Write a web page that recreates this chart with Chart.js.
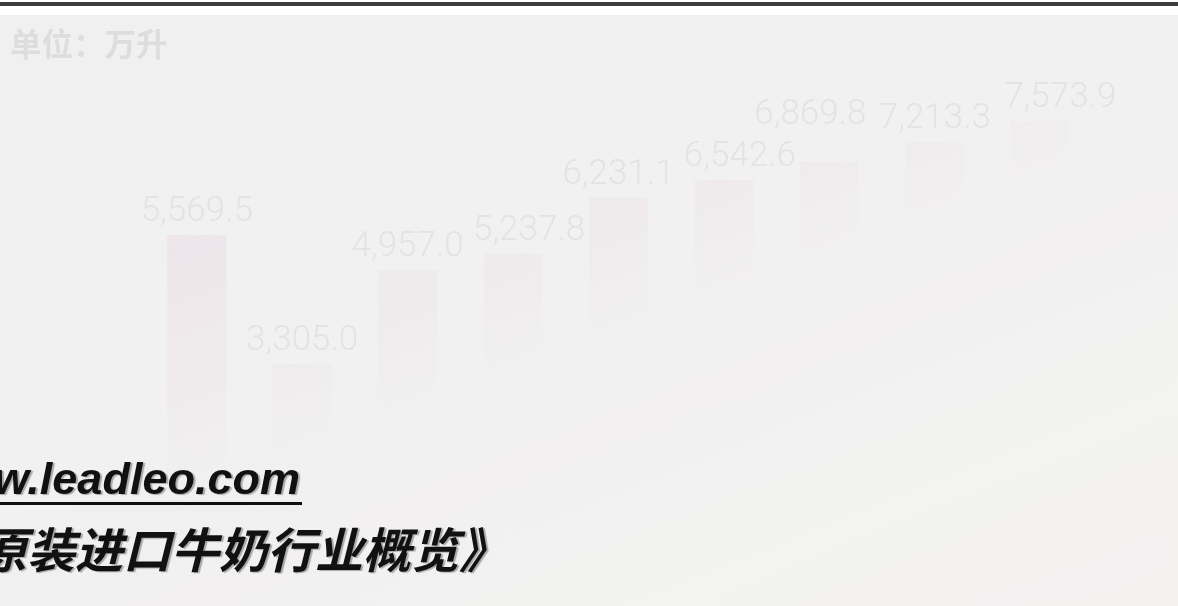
<!DOCTYPE html>
<html lang="zh-CN">
<head>
<meta charset="UTF-8">
<title>原装进口牛奶</title>
<script src="https://cdn.jsdelivr.net/npm/chart.js"></script>
<style>
    html, body { margin: 0; padding: 0; }
    body { width: 1178px; height: 606px; position: relative; overflow: hidden; background: #ffffff; }
    .topline { position: absolute; left: 0; top: 2px; width: 1178px; height: 4px; background: #3c3c3c; }
    .fondo {
        position: absolute; left: 0; top: 15px; width: 1178px; height: 591px;
        background: linear-gradient(158deg, #f0f0f0 0%, #f1f1f1 45%, #f2f0f1 62%, #f3f3f1 80%, #f4f1f1 100%);
    }
    #grafico { position: absolute; left: 0; top: 0; }
    .unidade {
        position: absolute; left: 10px; top: 22px;
        font-family: "Noto Sans CJK SC", sans-serif; font-weight: bold;
        font-size: 31.5px; line-height: 40px; color: #dddddd;
    }
    .marca {
        position: absolute; color: #111; font-weight: bold; font-style: italic;
        white-space: nowrap; text-shadow: 2px 1px 1px rgba(0,0,0,0.3);
    }
    .site { left: -6px; top: 456px; font-family: "Liberation Sans", Arial, sans-serif; font-size: 45px; line-height: 45px; }
    .sublinhado { position: absolute; left: 0; top: 502px; width: 302px; height: 3px; background: #111; }
    .titulo { left: -21px; top: 523px; font-family: "Noto Sans CJK SC", sans-serif; font-size: 48px; line-height: 48px; }
</style>
</head>
<body>
<div class="topline"></div>
<div class="fondo"></div>
<canvas id="grafico" width="1178" height="606"></canvas>
<div class="unidade">单位：万升</div>
<div class="marca site">w.leadleo.com</div>
<div class="sublinhado"></div>
<div class="marca titulo">原装进口牛奶行业概览》</div>

<script>
    // dados
    const anos = ['2014', '2015', '2016', '2017', '2018', '2019', '2020', '2021', '2022'];
    const volumes = [5569.5, 3305.0, 4957.0, 5237.8, 6231.1, 6542.6, 6869.8, 7213.3, 7573.9];

    function formatar(v) {
        return v.toLocaleString('en-US', { minimumFractionDigits: 1, maximumFractionDigits: 1 });
    }

    // degrade diagonal das barras (somem para baixo/direita)
    function corBarra(context) {
        const ctx = context.chart.ctx;
        const g = ctx.createLinearGradient(0, 300, 91, 546);
        g.addColorStop(0, 'rgba(220,160,190,0.14)');
        g.addColorStop(0.5, 'rgba(220,160,190,0.07)');
        g.addColorStop(1, 'rgba(220,160,190,0)');
        return g;
    }

    // deslocamento manual de alguns rotulos para nao sobrepor
    const ajusteX = { 3: 16, 5: 16, 6: -19, 8: 20 };
    const ajusteY = { 6: 23 };

    // rotulos de valor acima das barras
    const rotulos = {
        id: 'rotulos',
        afterDatasetsDraw(chart) {
            const ctx = chart.ctx;
            const meta = chart.getDatasetMeta(0);
            ctx.save();
            ctx.font = '300 35px Roboto';
            ctx.fillStyle = '#e3e3e3';
            ctx.textAlign = 'center';
            ctx.textBaseline = 'alphabetic';
            meta.data.forEach(function (bar, i) {
                let dx = ajusteX[i] || 0;
                let dy = ajusteY[i] || 0;
                ctx.fillText(formatar(volumes[i]), bar.x + dx, bar.y - 14 - dy);
            });
            ctx.restore();
        }
    };

    const config = {
        type: 'bar',
        data: {
            labels: anos,
            datasets: [{
                label: '原装进口牛奶',
                data: volumes,
                backgroundColor: corBarra,
                borderWidth: 0,
                barPercentage: 0.7,
                categoryPercentage: 0.8
            }]
        },
        options: {
            responsive: false,
            animation: false,
            layout: { padding: { left: 144, right: 85, top: 40, bottom: 54 } },
            plugins: {
                legend: { display: false },
                tooltip: { enabled: false }
            },
            scales: {
                x: { display: false },
                y: { display: false, min: 0, max: 9000 }
            }
        },
        plugins: [rotulos]
    };

    let grafico = new Chart(document.getElementById('grafico'), config);
</script>
</body>
</html>
